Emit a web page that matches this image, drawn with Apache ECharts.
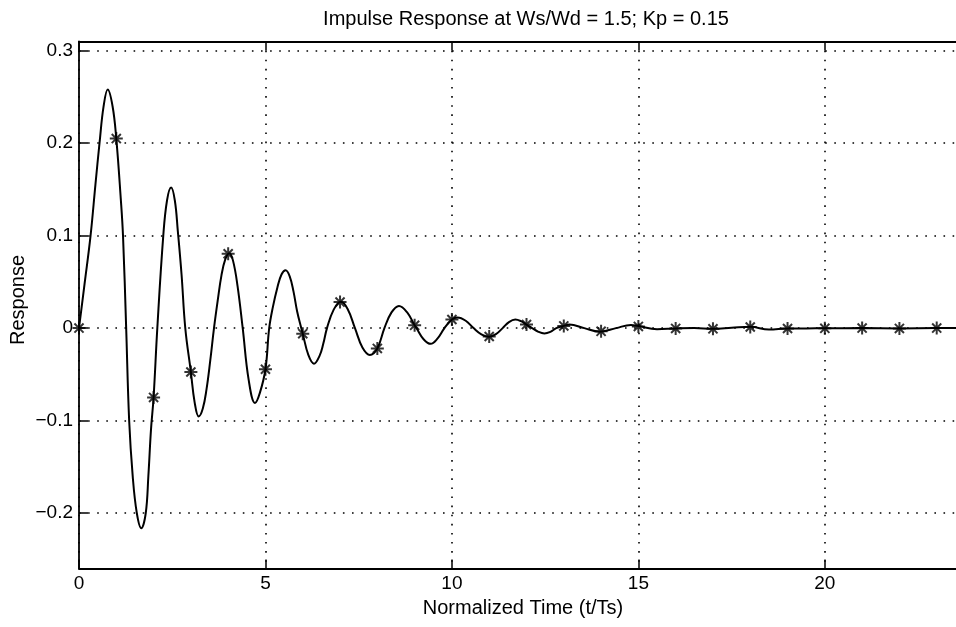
<!DOCTYPE html>
<html>
<head>
<meta charset="utf-8">
<script src="https://cdn.jsdelivr.net/npm/echarts@6/dist/echarts.min.js"></script>
<style>
html,body{margin:0;padding:0;background:#ffffff;}
#chart{width:956px;height:627px;}
</style>
</head>
<body>
<div id="chart"></div>
<script>
// ---------- texts ----------
const titleText = 'Impulse Response at Ws/Wd = 1.5; Kp = 0.15';
const xAxisName = 'Normalized Time (t/Ts)';
const yAxisName = 'Response';

// ---------- axis ranges / ticks ----------
const xRange = [0, 24];
const xTickStep = 5;
const yRange = [-0.26, 0.31];
const yTickStep = 0.1;

// ---------- continuous response curve ----------
const curveTime = [
  0, 0.15, 0.31, 0.44, 0.55, 0.66, 0.77, 0.9, 1.0, 1.12, 1.18, 1.265, 1.345, 1.44, 1.55, 1.67, 1.79, 1.86, 1.93, 2.0,
  2.1, 2.26, 2.36, 2.47, 2.57, 2.65, 2.75, 2.85, 3.0, 3.1, 3.21, 3.32, 3.42, 3.52, 3.62, 3.72, 3.82, 3.92, 4.03, 4.13,
  4.25, 4.39, 4.55, 4.72, 4.85, 5.0, 5.1, 5.2, 5.32, 5.43, 5.54, 5.65, 5.75, 5.85, 5.96, 6.0, 6.15, 6.3, 6.45, 6.55,
  6.65, 6.83, 7.02, 7.2, 7.4, 7.6, 7.8, 8.0, 8.19, 8.38, 8.58, 8.8, 9.0, 9.05, 9.24, 9.43, 9.6, 9.8, 10.0, 10.15,
  10.37, 10.58, 10.79, 11.0, 11.18, 11.36, 11.53, 11.7, 11.85, 12.0, 12.15, 12.32, 12.48, 12.64, 12.8, 13.0, 13.15, 13.55, 13.95, 14.4,
  14.8, 15.0, 15.5, 16.0, 16.5, 17.0, 17.5, 18.0, 18.5, 19.0, 19.5, 20.0, 21.0, 22.0, 23.0, 24.0
];
const curveResponse = [
  0, 0.048, 0.1, 0.155, 0.2, 0.24, 0.258, 0.24, 0.205, 0.14, 0.1, 0, -0.1, -0.16, -0.2, -0.2165, -0.2, -0.16, -0.11, -0.075,
  0, 0.1, 0.138, 0.152, 0.138, 0.105, 0.058, 0, -0.0475, -0.08, -0.0955, -0.087, -0.066, -0.035, 0, 0.03, 0.057, 0.074, 0.081, 0.073,
  0.046, 0, -0.056, -0.081, -0.07, -0.0445, 0, 0.023, 0.044, 0.058, 0.0625, 0.056, 0.04, 0.018, 0, -0.006, -0.029, -0.0385, -0.03, -0.017,
  0, 0.02, 0.0285, 0.021, 0, -0.021, -0.029, -0.022, 0, 0.017, 0.024, 0.017, 0.003, 0, -0.012, -0.017, -0.012, 0, 0.0093, 0.0115,
  0.008, 0, -0.0067, -0.0093, -0.0066, 0, 0.0065, 0.0092, 0.0075, 0.0038, 0, -0.004, -0.0057, -0.004, 0, 0.0024, 0.0038, 0, -0.0038, 0,
  0.0035, 0.0022, -0.0012, -0.0003, 0.0002, -0.0008, 0.0003, 0.0014, -0.0015, -0.0004, -0.0003, -0.0002, 0, -0.0003, 0, 0
];

// ---------- sampled response (asterisk markers) ----------
const sampleTime = [0, 1, 2, 3, 4, 5, 6, 7, 8, 9, 10, 11, 12, 13, 14, 15, 16, 17, 18, 19, 20, 21, 22, 23];
const sampleResponse = [
  0, 0.205, -0.075, -0.0475, 0.0804, -0.0445, -0.006, 0.0282, -0.022, 0.003, 0.0093, -0.0091,
  0.0038, 0.0024, -0.0035, 0.0018, -0.0003, -0.0008, 0.0012, -0.0004, -0.0002, 0, -0.0003, 0
];

// ---------- build ----------
const curveData = curveTime.map((t, i) => [t, curveResponse[i]]);
const sampleData = sampleTime.map((t, i) => [t, sampleResponse[i]]);

const FONT = "'Liberation Sans', Arial, Helvetica, sans-serif";
const INK = '#000000';
const asterisk = 'path://M0,-10L0,10M-10,0L10,0M-7,-7L7,7M-7,7L7,-7';

function yLabel(v) {
  const r = Math.round(v * 10) / 10;
  if (Math.abs(v - r) > 1e-6) return '';
  if (r === 0) return '0';
  return (r < 0 ? '\u2212' : '') + Math.abs(r).toFixed(1);
}

const chart = echarts.init(document.getElementById('chart'), null, {renderer: 'canvas'});
chart.setOption({
  backgroundColor: '#ffffff',
  animation: false,
  title: {
    text: titleText,
    left: 521,
    top: 4,
    textAlign: 'center',
    textStyle: {fontFamily: FONT, fontSize: 20, fontWeight: 'normal', color: INK}
  },
  grid: {left: 79, right: -18, top: 41.5, bottom: 58.5, containLabel: false, outerBoundsMode: 'none'},
  xAxis: [{
    type: 'value',
    min: xRange[0], max: xRange[1], interval: xTickStep,
    position: 'bottom',
    name: xAxisName,
    nameLocation: 'middle',
    nameGap: 30,
    nameMoveOverlap: false,
    nameTextStyle: {fontFamily: FONT, fontSize: 20, color: INK, padding: [0, 7, 0, 0]},
    axisLine: {show: true, onZero: false, lineStyle: {color: INK, width: 1.8}},
    axisTick: {show: true, inside: true, length: 9, lineStyle: {color: INK, width: 1.5}},
    axisLabel: {show: true, margin: 6, showMaxLabel: false, fontFamily: FONT, fontSize: 19, color: INK},
    splitLine: {show: true, lineStyle: {color: INK, width: 1.6, type: [1.6, 7.5]}}
  }, {
    type: 'value',
    min: xRange[0], max: xRange[1], interval: xTickStep,
    position: 'top',
    axisLine: {show: true, onZero: false, lineStyle: {color: INK, width: 1.8}},
    axisTick: {show: true, inside: true, length: 9, lineStyle: {color: INK, width: 1.5}},
    axisLabel: {show: false},
    splitLine: {show: false}
  }],
  yAxis: [{
    type: 'value',
    min: yRange[0], max: yRange[1],
    minInterval: yTickStep, maxInterval: yTickStep,
    position: 'left',
    name: yAxisName,
    nameLocation: 'middle',
    nameGap: 51,
    nameRotate: 90,
    nameMoveOverlap: false,
    nameTextStyle: {fontFamily: FONT, fontSize: 20, color: INK, padding: [0, 0, 0, 10]},
    axisLine: {show: true, onZero: false, lineStyle: {color: INK, width: 1.8}},
    axisTick: {show: true, inside: true, length: 9, lineStyle: {color: INK, width: 1.5}},
    axisLabel: {show: true, margin: 6, showMinLabel: false, showMaxLabel: false,
      fontFamily: FONT, fontSize: 19, color: INK, formatter: yLabel},
    splitLine: {show: true, lineStyle: {color: INK, width: 1.6, type: [1.6, 7.5]}}
  }],
  series: [{
    name: 'Response',
    type: 'line',
    xAxisIndex: 0, yAxisIndex: 0,
    data: curveData,
    smooth: 0.4,
    showSymbol: false,
    symbol: 'none',
    lineStyle: {color: INK, width: 2},
    z: 3
  }, {
    name: 'Samples',
    type: 'scatter',
    xAxisIndex: 0, yAxisIndex: 0,
    data: sampleData,
    symbol: asterisk,
    symbolSize: 13,
    itemStyle: {color: INK, borderColor: INK, borderWidth: 2},
    z: 4
  }]
});
</script>
</body>
</html>
